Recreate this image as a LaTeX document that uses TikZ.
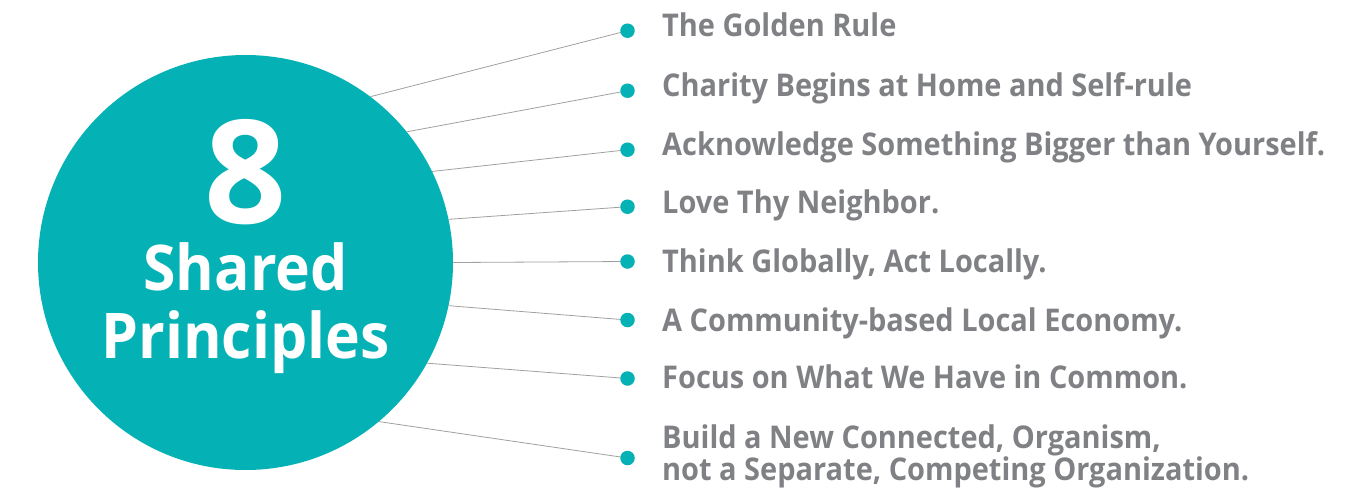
\documentclass[tikz,border=0pt]{standalone}
\usepackage{fontspec}
\newfontfamily\lblfont{Open Sans}[FakeStretch=0.925]
\newfontfamily\midfont{Open Sans}[FakeStretch=0.935]
\newfontfamily\eightfont{Open Sans}
\definecolor{tealc}{HTML}{04B1B5}
\definecolor{greyt}{HTML}{808184}
\definecolor{linec}{HTML}{A0A0A0}
\tikzset{
  lbl/.style={anchor=base west, inner sep=0, text=greyt, font=\lblfont\bfseries\fontsize{31.3}{29}\selectfont},
  dotn/.style={circle, fill=tealc, minimum size=14.5, inner sep=0},
  conn/.style={draw=linec, line width=0.8pt},
  big/.style={anchor=base, inner sep=0, text=white}
}
\begin{document}
\begin{tikzpicture}[x=1pt,y=-1pt]
\useasboundingbox (0,0) rectangle (1366,499);
\node[circle, fill=tealc, minimum size=415, inner sep=0] (C) at (245.5,262.5) {};
\node[big, text height=101pt, text depth=0pt, font=\eightfont\bfseries\fontsize{144}{144}\selectfont] (n8) at (245.5,223) {8};
\node[big, text height=47pt, text depth=0pt, font=\midfont\bfseries\fontsize{63}{63}\selectfont] (nS) at (245.5,290) {Shared};
\node[big, text height=47pt, text depth=14pt, font=\midfont\bfseries\fontsize{63}{63}\selectfont] (nP) at (245.5,358) {Principles};
\coordinate (d1c) at (627.5,30.7);
\coordinate (d2c) at (627.5,90.7);
\coordinate (d3c) at (627.5,149.7);
\coordinate (d4c) at (627.5,206.7);
\coordinate (d5c) at (627.5,261.5);
\coordinate (d6c) at (627.5,320);
\coordinate (d7c) at (627.5,378.5);
\coordinate (d8c) at (627.5,458);
\draw[conn] (C.53.8) -- (d1c);
\draw[conn] (C.39.2) -- (d2c);
\draw[conn] (C.26.1) -- (d3c);
\draw[conn] (C.12.7) -- (d4c);
\draw[conn] (C.0) -- (d5c);
\draw[conn] (C.-12.9) -- (d6c);
\draw[conn] (C.-29) -- (d7c);
\draw[conn] (C.-50.8) -- (d8c);
\node[dotn] (d1) at (d1c) {};
\node[dotn] (d2) at (d2c) {};
\node[dotn] (d3) at (d3c) {};
\node[dotn] (d4) at (d4c) {};
\node[dotn] (d5) at (d5c) {};
\node[dotn] (d6) at (d6c) {};
\node[dotn] (d7) at (d7c) {};
\node[dotn] (d8) at (d8c) {};
\node[lbl] (t1) at (662,36.5) {The Golden Rule};
\node[lbl] (t2) at (662,96.7) {Charity Begins at Home and Self-rule};
\node[lbl] (t3) at (662,155) {Acknowledge Something Bigger than Yourself.};
\node[lbl] (t4) at (662,213) {Love Thy Neighbor.};
\node[lbl] (t5) at (662,272) {Think Globally, Act Locally.};
\node[lbl] (t6) at (662,331.5) {A Community-based Local Economy.};
\node[lbl] (t7) at (662,388) {Focus on What We Have in Common.};
\node[lbl] (t8) at (662,448) {\vtop{\hbox{Build a New Connected, Organism,}\hbox{not a Separate, Competing Organization.}}};
\end{tikzpicture}
\end{document}
